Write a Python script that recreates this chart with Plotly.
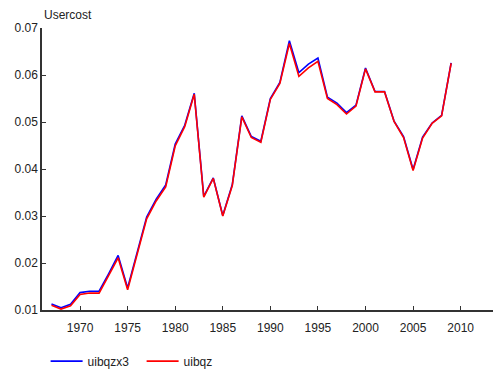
import plotly.graph_objects as go

years = list(range(1967, 2010))

uibqzx3 = [
    0.0113, 0.0105, 0.0112, 0.0137, 0.0140, 0.0140, 0.0177, 0.0216, 0.0147, 0.0223,
    0.0298, 0.0336, 0.0366, 0.0453, 0.0493, 0.0561, 0.0342, 0.0381, 0.0301, 0.0367,
    0.0513, 0.0469, 0.0459, 0.0550, 0.0584, 0.0673, 0.0605, 0.0623, 0.0636, 0.0553,
    0.0540, 0.0520, 0.0536, 0.0615, 0.0565, 0.0565, 0.0502, 0.0469, 0.0399, 0.0468,
    0.0498, 0.0514, 0.0626,
]

uibqz = [
    0.0110, 0.0102, 0.0109, 0.0133, 0.0136, 0.0136, 0.0173, 0.0211, 0.0143, 0.0219,
    0.0294, 0.0332, 0.0362, 0.0449, 0.0490, 0.0559, 0.0340, 0.0380, 0.0300, 0.0365,
    0.0511, 0.0467, 0.0457, 0.0548, 0.0582, 0.0667, 0.0597, 0.0615, 0.0629, 0.0550,
    0.0537, 0.0517, 0.0534, 0.0613, 0.0564, 0.0564, 0.0501, 0.0467, 0.0397, 0.0466,
    0.0497, 0.0513, 0.0625,
]

x_ticks = [1970, 1975, 1980, 1985, 1990, 1995, 2000, 2005, 2010]
y_ticks = [0.01, 0.02, 0.03, 0.04, 0.05, 0.06, 0.07]

font = "Liberation Sans, Arial, Helvetica, sans-serif"
axis_col = "#333333"

fig = go.Figure()
fig.add_trace(go.Scatter(x=years, y=uibqzx3, mode="lines", name="uibqzx3",
                         line=dict(color="#0000ff", width=1.6)))
fig.add_trace(go.Scatter(x=years, y=uibqz, mode="lines", name="uibqz",
                         line=dict(color="#ff0000", width=1.6)))

fig.update_layout(
    width=493, height=376,
    margin=dict(l=42, r=0, t=28, b=64),
    paper_bgcolor="white", plot_bgcolor="white",
    font=dict(family=font, size=12, color="#222222"),
    showlegend=True,
    legend=dict(orientation="h", x=0.008, y=-0.13, xanchor="left", yanchor="top",
                font=dict(size=12), itemwidth=32, entrywidth=49,
                entrywidthmode="pixels", tracegroupgap=0),
    annotations=[dict(text="Usercost", xref="paper", yref="paper", x=0, y=1,
                      xanchor="left", yanchor="bottom", yshift=4, showarrow=False,
                      font=dict(size=12))],
)
fig.update_xaxes(range=[1966, 2013.4], tickvals=x_ticks, showgrid=False, zeroline=False,
                 showline=True, linecolor=axis_col, linewidth=1.5,
                 ticks="inside", ticklen=4, tickcolor=axis_col, ticklabelstandoff=6)
fig.update_yaxes(range=[0.01, 0.07], tickvals=y_ticks, tickformat=".2f", showgrid=False,
                 zeroline=False, showline=True, linecolor=axis_col, linewidth=1.5,
                 ticks="inside", ticklen=4, tickcolor=axis_col)

fig.write_html("out.html")
